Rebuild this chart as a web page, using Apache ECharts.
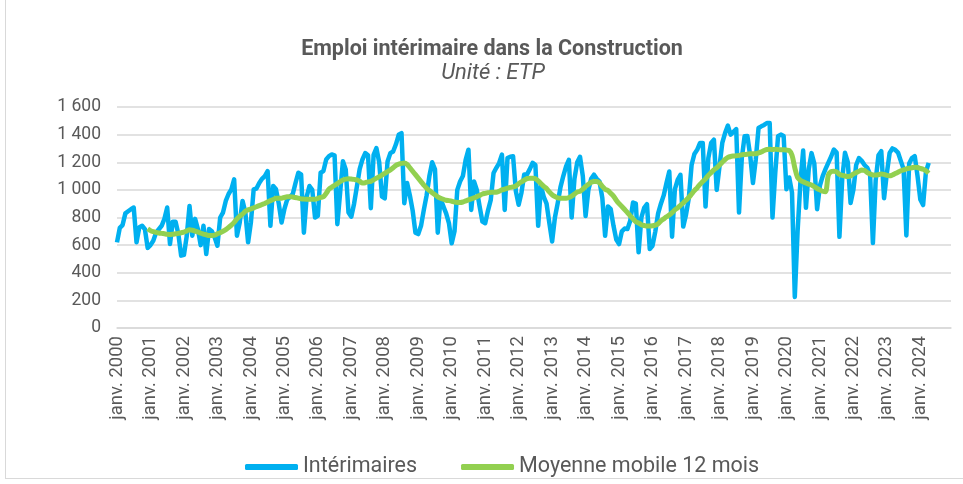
<!DOCTYPE html>
<html>
<head>
<meta charset="utf-8">
<script src="https://cdn.jsdelivr.net/npm/echarts@6.0.0/dist/echarts.min.js"></script>
<style>
  html, body { margin: 0; padding: 0; background: #fff; }
  #chart { position: absolute; left: 5px; top: 0; width: 958px; height: 479px;
           border-left: 1px solid #d9d9d9; border-bottom: 1px solid #d9d9d9; box-sizing: border-box; }
</style>
</head>
<body>
<div id="chart"></div>
<script>
// axe : janv. 2000 -> déc. 2024 (mensuel)
const years = [2000, 2001, 2002, 2003, 2004, 2005, 2006, 2007, 2008, 2009, 2010, 2011, 2012,
  2013, 2014, 2015, 2016, 2017, 2018, 2019, 2020, 2021, 2022, 2023, 2024];
const monthNames = ['janv.', 'févr.', 'mars', 'avr.', 'mai', 'juin', 'juil.', 'août', 'sept.', 'oct.', 'nov.', 'déc.'];
const yTicks = [0, 200, 400, 600, 800, 1000, 1200, 1400, 1600];

// Intérimaires (ETP), une ligne par année
const interimaires = [
  620, 725, 745, 830, 845, 860, 872, 620, 730, 740, 715, 580,       // 2000
  600, 632, 690, 715, 740, 790, 872, 608, 770, 770, 680, 524,       // 2001
  530, 665, 884, 668, 790, 716, 600, 740, 536, 716, 700, 656,       // 2002
  596, 800, 836, 920, 970, 1004, 1076, 668, 764, 920, 840, 620,     // 2003
  764, 1004, 1010, 1050, 1080, 1100, 1136, 740, 1028, 1004, 900, 764, // 2004
  860, 930, 950, 968, 1050, 1124, 1112, 690, 950, 1028, 1000, 800,  // 2005
  812, 1124, 1136, 1220, 1244, 1256, 1250, 752, 980, 1208, 1148, 836, // 2006
  806, 900, 1024, 1150, 1220, 1266, 1250, 867, 1254, 1302, 1200, 951, // 2007
  939, 1206, 1266, 1278, 1330, 1399, 1411, 903, 1050, 960, 850, 690,  // 2008
  680, 740, 855, 960, 1100, 1200, 1148, 690, 940, 880, 830, 760,    // 2009
  613, 700, 1000, 1061, 1100, 1218, 1291, 855, 1061, 1000, 880, 770, // 2010
  759, 850, 928, 1122, 1160, 1194, 1255, 855, 1231, 1240, 1243, 989, // 2011
  892, 980, 1112, 1112, 1150, 1196, 1180, 740, 1028, 950, 900, 760,  // 2012
  626, 800, 904, 1020, 1100, 1170, 1218, 800, 1080, 1200, 1240, 1100, // 2013
  810, 1000, 1080, 1110, 1080, 1060, 940, 668, 880, 860, 740, 640,  // 2014
  608, 700, 720, 716, 776, 908, 900, 548, 800, 870, 896, 572,       // 2015
  596, 700, 830, 900, 960, 1050, 1133, 661, 1004, 1072, 1109, 734,  // 2016
  820, 940, 1180, 1260, 1290, 1339, 1340, 879, 1230, 1339, 1363, 1000, // 2017
  1169, 1340, 1411, 1465, 1400, 1420, 1440, 836, 1230, 1388, 1390, 1250, // 2018
  1050, 1218, 1448, 1460, 1470, 1484, 1484, 800, 1124, 1388, 1400, 1390, // 2019
  1004, 1090, 980, 225, 700, 1050, 1285, 870, 1150, 1266, 1190, 860,  // 2020
  1030, 1100, 1150, 1196, 1240, 1292, 1270, 660, 1080, 1268, 1200, 905, // 2021
  1000, 1180, 1230, 1210, 1180, 1160, 1110, 615, 1070, 1250, 1280, 940, // 2022
  1120, 1268, 1300, 1290, 1270, 1210, 1150, 670, 1190, 1230, 1244, 1100, // 2023
  930, 890, 1130, 1196                                             // 2024
];

// Moyenne mobile 12 mois
const moyenneMobile = [
  null, null, null, null, null, null, null, null, null, null, null, 718,   // 2000
  705, 697, 692, 688, 685, 682, 679, 677, 679, 682, 685, 690,             // 2001
  694, 703, 712, 708, 702, 695, 686, 680, 675, 670, 670, 672,             // 2002
  682, 690, 700, 712, 728, 745, 765, 790, 810, 825, 845, 855,             // 2003
  862, 870, 878, 886, 894, 902, 912, 922, 930, 940, 940, 940,             // 2004
  945, 950, 951, 948, 945, 940, 935, 933, 932, 932, 932, 932,             // 2005
  938, 945, 951, 975, 1005, 1020, 1033, 1045, 1060, 1072, 1078, 1080,     // 2006
  1078, 1076, 1072, 1062, 1050, 1052, 1058, 1062, 1072, 1085, 1095, 1107, // 2007
  1120, 1132, 1145, 1160, 1178, 1186, 1192, 1195, 1185, 1160, 1135, 1110, // 2008
  1085, 1060, 1035, 1012, 995, 980, 965, 950, 940, 932, 925, 922,         // 2009
  918, 912, 909, 909, 912, 920, 928, 935, 942, 950, 960, 970,             // 2010
  975, 980, 982, 983, 983, 990, 1000, 1005, 1012, 1018, 1022, 1028,       // 2011
  1045, 1058, 1070, 1082, 1085, 1085, 1080, 1065, 1045, 1025, 1010, 985,  // 2012
  965, 952, 942, 940, 940, 940, 945, 955, 970, 985, 990, 1005,            // 2013
  1025, 1040, 1055, 1061, 1060, 1050, 1025, 1005, 995, 975, 955, 925,     // 2014
  900, 880, 858, 835, 812, 790, 770, 760, 748, 742, 738, 738,             // 2015
  740, 745, 755, 775, 790, 805, 818, 835, 855, 870, 888, 905,             // 2016
  925, 945, 970, 995, 1015, 1040, 1060, 1080, 1105, 1125, 1145, 1160,     // 2017
  1180, 1200, 1220, 1235, 1242, 1245, 1247, 1250, 1254, 1256, 1258, 1261, // 2018
  1261, 1262, 1268, 1275, 1285, 1292, 1295, 1292, 1295, 1292, 1290, 1290, // 2019
  1288, 1285, 1250, 1160, 1090, 1070, 1058, 1050, 1042, 1035, 1023, 1010, // 2020
  1000, 990, 986, 1105, 1132, 1135, 1130, 1112, 1105, 1100, 1096, 1100,   // 2021
  1115, 1125, 1135, 1144, 1140, 1125, 1115, 1108, 1107, 1110, 1115, 1112, // 2022
  1105, 1102, 1108, 1118, 1128, 1138, 1145, 1152, 1157, 1160, 1164, 1162, // 2023
  1155, 1149, 1138, 1120                                                   // 2024
];

const categories = [];
years.forEach(function (y) {
  monthNames.forEach(function (m) { categories.push(m + ' ' + y); });
});

const textColor = '#595959';
const gridColor = '#d9d9d9';

let myChart = echarts.init(document.getElementById('chart'));
myChart.setOption({
  animation: false,
  title: [{
    text: 'Emploi intérimaire dans la Construction',
    left: 481,
    textAlign: 'center',
    top: 34,
    textStyle: {
      fontFamily: 'Roboto',
      fontSize: 21.5,
      fontWeight: 'bold',
      color: textColor
    }
  }, {
    text: 'Unité : ETP',
    left: 482,
    textAlign: 'center',
    top: 57,
    textStyle: {
      fontFamily: 'Roboto',
      fontSize: 22,
      fontWeight: 'normal',
      fontStyle: 'italic',
      color: textColor
    }
  }],
  legend: {
    top: 451,
    left: 234,
    itemWidth: 53,
    itemHeight: 6,
    itemGap: 44,
    icon: 'roundRect',
    textStyle: {
      fontFamily: 'Roboto',
      fontSize: 21.5,
      color: textColor
    },
    data: ['Intérimaires', 'Moyenne mobile 12 mois']
  },
  grid: {
    top: 107,
    bottom: 150,
    left: 111,
    right: 12
  },
  xAxis: {
    type: 'category',
    data: categories,
    boundaryGap: false,
    axisLine: {
      lineStyle: { color: gridColor, width: 1.5 }
    },
    axisTick: { show: false },
    axisLabel: {
      interval: 11,
      rotate: 90,
      margin: 8,
      fontFamily: 'Roboto',
      fontSize: 18.5,
      color: textColor
    }
  },
  yAxis: {
    type: 'value',
    min: 0,
    max: yTicks[yTicks.length - 1],
    interval: 200,
    axisLine: { show: false },
    axisTick: { show: false },
    splitLine: {
      lineStyle: { color: gridColor, width: 1.5 }
    },
    axisLabel: {
      margin: 16,
      fontFamily: 'Roboto',
      fontSize: 17.5,
      color: textColor,
      formatter: function (v) {
        return String(v).replace(/\B(?=(\d{3})+(?!\d))/g, ' ');
      }
    }
  },
  series: [
    {
      name: 'Intérimaires',
      type: 'line',
      data: interimaires,
      showSymbol: false,
      lineStyle: { color: '#00b0f0', width: 4.5, join: 'round' },
      itemStyle: { color: '#00b0f0' }
    },
    {
      name: 'Moyenne mobile 12 mois',
      type: 'line',
      data: moyenneMobile,
      showSymbol: false,
      smooth: 0.3,
      lineStyle: { color: '#92d050', width: 5 },
      itemStyle: { color: '#92d050' }
    }
  ]
});
</script>
</body>
</html>
